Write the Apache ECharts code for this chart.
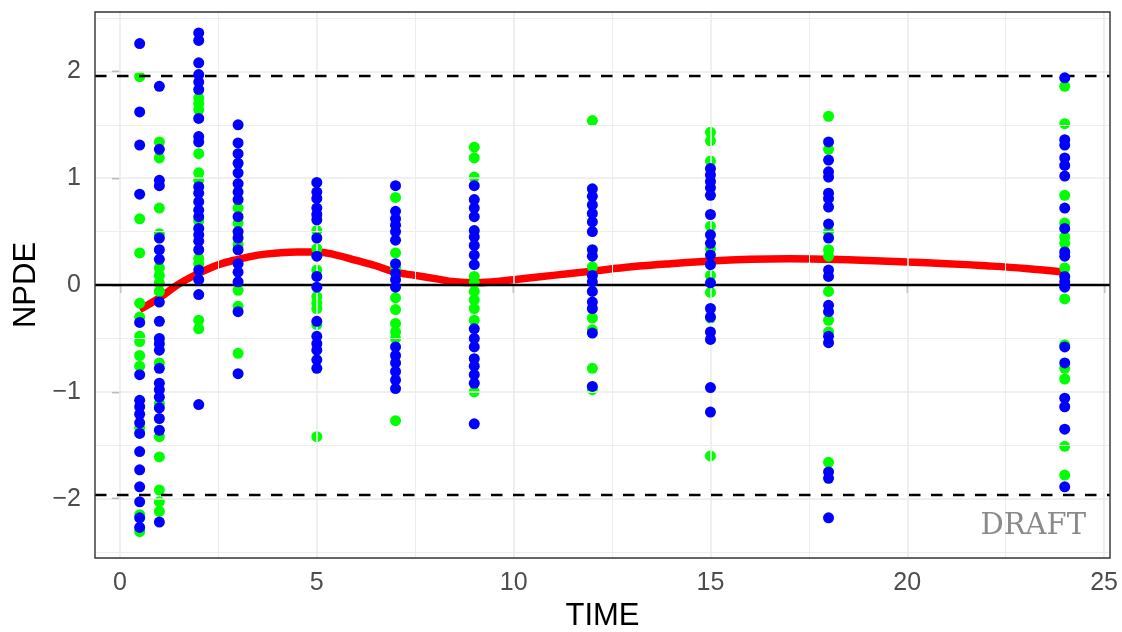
<!DOCTYPE html>
<html><head><meta charset="utf-8">
<script src="https://cdn.jsdelivr.net/npm/echarts@6/dist/echarts.min.js"></script>
<style>html,body{margin:0;padding:0;background:#fff}#c{width:1122px;height:632px}</style>
</head><body><div id="c"></div>
<script>
const times = [0.5, 1, 2, 3, 5, 7, 9, 12, 15, 18, 24];
const greenValues = [
  [1.95, 0.62, 0.30, -0.17, -0.30, -0.48, -0.53, -0.66, -0.76, -1.34, -2.15, -2.31],
  [1.34, 1.19, 0.72, 0.48, 0.16, 0.09, 0.02, -0.06, -0.73, -1.11, -1.42, -1.61, -1.92, -2.03, -2.12],
  [1.75, 1.70, 1.64, 1.23, 1.05, 0.98, 0.60, 0.25, 0.20, -0.33, -0.41],
  [0.72, 0.58, 0.38, -0.05, -0.20, -0.64],
  [0.51, 0.34, 0.14, -0.11, -0.17, -0.22, -0.37, -1.42],
  [0.82, 0.30, 0.16, -0.12, -0.23, -0.36, -0.44, -0.50, -1.27],
  [1.29, 1.19, 1.01, 0.08, 0.02, -0.06, -0.14, -0.22, -0.33, -1.00],
  [1.54, 0.17, -0.31, -0.42, -0.78, -0.98],
  [1.43, 1.35, 1.16, 0.55, 0.34, 0.09, -0.07, -0.31, -1.60],
  [1.58, 1.27, 0.50, 0.33, 0.27, -0.06, -0.33, -0.44, -1.66],
  [1.86, 1.51, 0.84, 0.58, 0.45, 0.39, 0.16, -0.13, -0.56, -0.78, -0.88, -1.51, -1.78]
];
const blueValues = [
  [2.26, 1.62, 1.31, 0.85, -0.35, -0.84, -1.08, -1.14, -1.21, -1.29, -1.39, -1.56, -1.73, -1.89, -2.03, -2.18, -2.27],
  [1.86, 1.27, 0.98, 0.93, 0.44, 0.33, 0.24, -0.16, -0.34, -0.50, -0.55, -0.61, -0.78, -0.92, -0.98, -1.05, -1.15, -1.25, -1.36, -2.22],
  [2.36, 2.29, 2.08, 1.97, 1.90, 1.83, 1.56, 1.39, 1.34, 0.92, 0.86, 0.78, 0.70, 0.64, 0.53, 0.47, 0.41, 0.33, 0.14, 0.05, -0.09, -1.12],
  [1.50, 1.33, 1.23, 1.14, 1.05, 0.95, 0.87, 0.80, 0.64, 0.50, 0.44, 0.33, 0.20, 0.12, 0.03, -0.25, -0.83],
  [0.96, 0.87, 0.81, 0.72, 0.66, 0.61, 0.44, 0.27, 0.08, -0.02, -0.34, -0.48, -0.55, -0.61, -0.70, -0.78],
  [0.93, 0.69, 0.62, 0.56, 0.50, 0.42, 0.20, 0.11, 0.05, -0.02, -0.58, -0.66, -0.73, -0.81, -0.89, -0.97],
  [0.93, 0.80, 0.72, 0.64, 0.51, 0.45, 0.37, 0.28, 0.19, -0.41, -0.50, -0.58, -0.69, -0.76, -0.84, -0.92, -1.30],
  [0.90, 0.83, 0.75, 0.67, 0.59, 0.50, 0.33, 0.27, 0.09, 0.03, -0.06, -0.16, -0.22, -0.45, -0.95],
  [1.09, 1.03, 0.97, 0.91, 0.84, 0.66, 0.47, 0.39, 0.28, 0.19, 0.02, -0.22, -0.30, -0.44, -0.51, -0.96, -1.19],
  [1.34, 1.17, 1.06, 1.01, 0.86, 0.81, 0.73, 0.57, 0.44, 0.14, 0.08, -0.19, -0.25, -0.48, -0.54, -1.75, -1.81, -2.18],
  [1.94, 1.36, 1.31, 1.19, 1.12, 1.02, 0.72, 0.53, 0.31, 0.27, 0.08, 0.03, -0.02, -0.58, -0.73, -1.06, -1.14, -1.35, -1.89]
];
const smoothTime = [0.5, 1, 1.5, 2, 2.5, 3, 3.5, 4, 4.5, 5, 5.5, 6, 6.5, 7, 7.5, 8, 8.5, 9, 9.5, 10, 11, 12, 13, 14, 15, 16, 17, 18, 19, 20, 21, 22, 23, 24];
const smoothNpde = [-0.23, -0.12, 0.01, 0.11, 0.19, 0.24, 0.28, 0.30, 0.31, 0.31, 0.28, 0.23, 0.18, 0.12, 0.09, 0.06, 0.03, 0.02, 0.03, 0.05, 0.09, 0.13, 0.17, 0.20, 0.225, 0.24, 0.245, 0.24, 0.23, 0.215, 0.20, 0.18, 0.155, 0.12];
const xTicks = [0, 5, 10, 15, 20, 25];
const yTicks = [-2, -1, 0, 1, 2];
const xMinor = [2.5, 7.5, 12.5, 17.5, 22.5];
const yMinor = [-2.5, -1.5, -0.5, 0.5, 1.5, 2.5];
const refBand = [-1.96, 1.96];
const xRange = [-0.635, 25.15];
const yRange = [-2.556, 2.556];

const greenPts = times.flatMap((t, i) => greenValues[i].map(v => [t, v]));
const bluePts = times.flatMap((t, i) => blueValues[i].map(v => [t, v]));
const smoothPts = smoothTime.map((t, i) => [t, smoothNpde[i]]);

const gridLines = [];
xTicks.forEach(v => gridLines.push({xAxis: v, lineStyle: {color: '#EBEBEB', width: 1.6, type: 'solid'}}));
xMinor.forEach(v => gridLines.push({xAxis: v, lineStyle: {color: '#EDEDED', width: 1, type: 'solid'}}));
yTicks.forEach(v => gridLines.push({yAxis: v, lineStyle: {color: '#EBEBEB', width: 1.6, type: 'solid'}}));
yMinor.forEach(v => gridLines.push({yAxis: v, lineStyle: {color: '#EDEDED', width: 1, type: 'solid'}}));

const refLines = [{yAxis: 0, lineStyle: {color: '#000', width: 2.4, type: 'solid'}}];
refBand.forEach(v => refLines.push({yAxis: v, lineStyle: {color: '#000', width: 2.4, type: [11.5, 10.5]}}));

const tickFont = {fontFamily: 'Liberation Sans, Arial, sans-serif', fontSize: 25, color: '#4D4D4D'};
const titleFont = {fontFamily: 'Liberation Sans, Arial, sans-serif', fontSize: 31, color: '#000'};
const chart = echarts.init(document.getElementById('c'), null, {renderer: 'canvas'});
chart.setOption({
  animation: false,
  backgroundColor: '#fff',
  grid: {left: 95, right: 12, top: 12, bottom: 74, show: true, borderColor: '#333', borderWidth: 1.4,
         backgroundColor: 'transparent', z: 10, containLabel: false, outerBoundsMode: 'none'},
  xAxis: {
    type: 'value', min: xRange[0], max: xRange[1],
    name: 'TIME', nameLocation: 'middle', nameGap: 43, nameTextStyle: titleFont,
    axisLine: {show: false},
    axisTick: {show: true, customValues: xTicks, length: 8, lineStyle: {color: '#333', width: 1.3}},
    axisLabel: Object.assign({customValues: xTicks, margin: 13}, tickFont),
    splitLine: {show: false}
  },
  yAxis: {
    type: 'value', min: yRange[0], max: yRange[1],
    name: 'NPDE', nameLocation: 'middle', nameGap: 53, nameRotate: 90, nameTextStyle: titleFont,
    axisLine: {show: false},
    axisTick: {show: true, customValues: yTicks, length: 8, lineStyle: {color: '#333', width: 1.3}},
    axisLabel: Object.assign({customValues: yTicks, margin: 14, formatter: v => String(v).replace('-', '\u2212')}, tickFont),
    splitLine: {show: false}
  },
  graphic: [{
    type: 'text', x: 1086, y: 526, z: 100,
    style: {text: 'DRAFT', fill: '#8A8A8A', align: 'right', verticalAlign: 'middle',
            font: '29px "DejaVu Serif", "Liberation Serif", serif', letterSpacing: 1}
  }],
  series: [
    {type: 'scatter', data: [], z: 1, silent: true,
     markLine: {silent: true, symbol: 'none', animation: false, label: {show: false}, data: gridLines}},
    {type: 'scatter', data: [], z: 2, silent: true,
     markLine: {silent: true, symbol: 'none', animation: false, label: {show: false}, data: refLines}},
    {type: 'line', data: smoothPts, z: 3, smooth: 0.4, showSymbol: false, symbol: 'none',
     lineStyle: {color: '#FF0000', width: 7.5}},
    {type: 'scatter', data: greenPts, z: 4, symbolSize: 11, itemStyle: {color: '#00FF00', opacity: 1}},
    {type: 'scatter', data: bluePts, z: 5, symbolSize: 11, itemStyle: {color: '#0000FF', opacity: 1}}
  ]
});
</script></body></html>
